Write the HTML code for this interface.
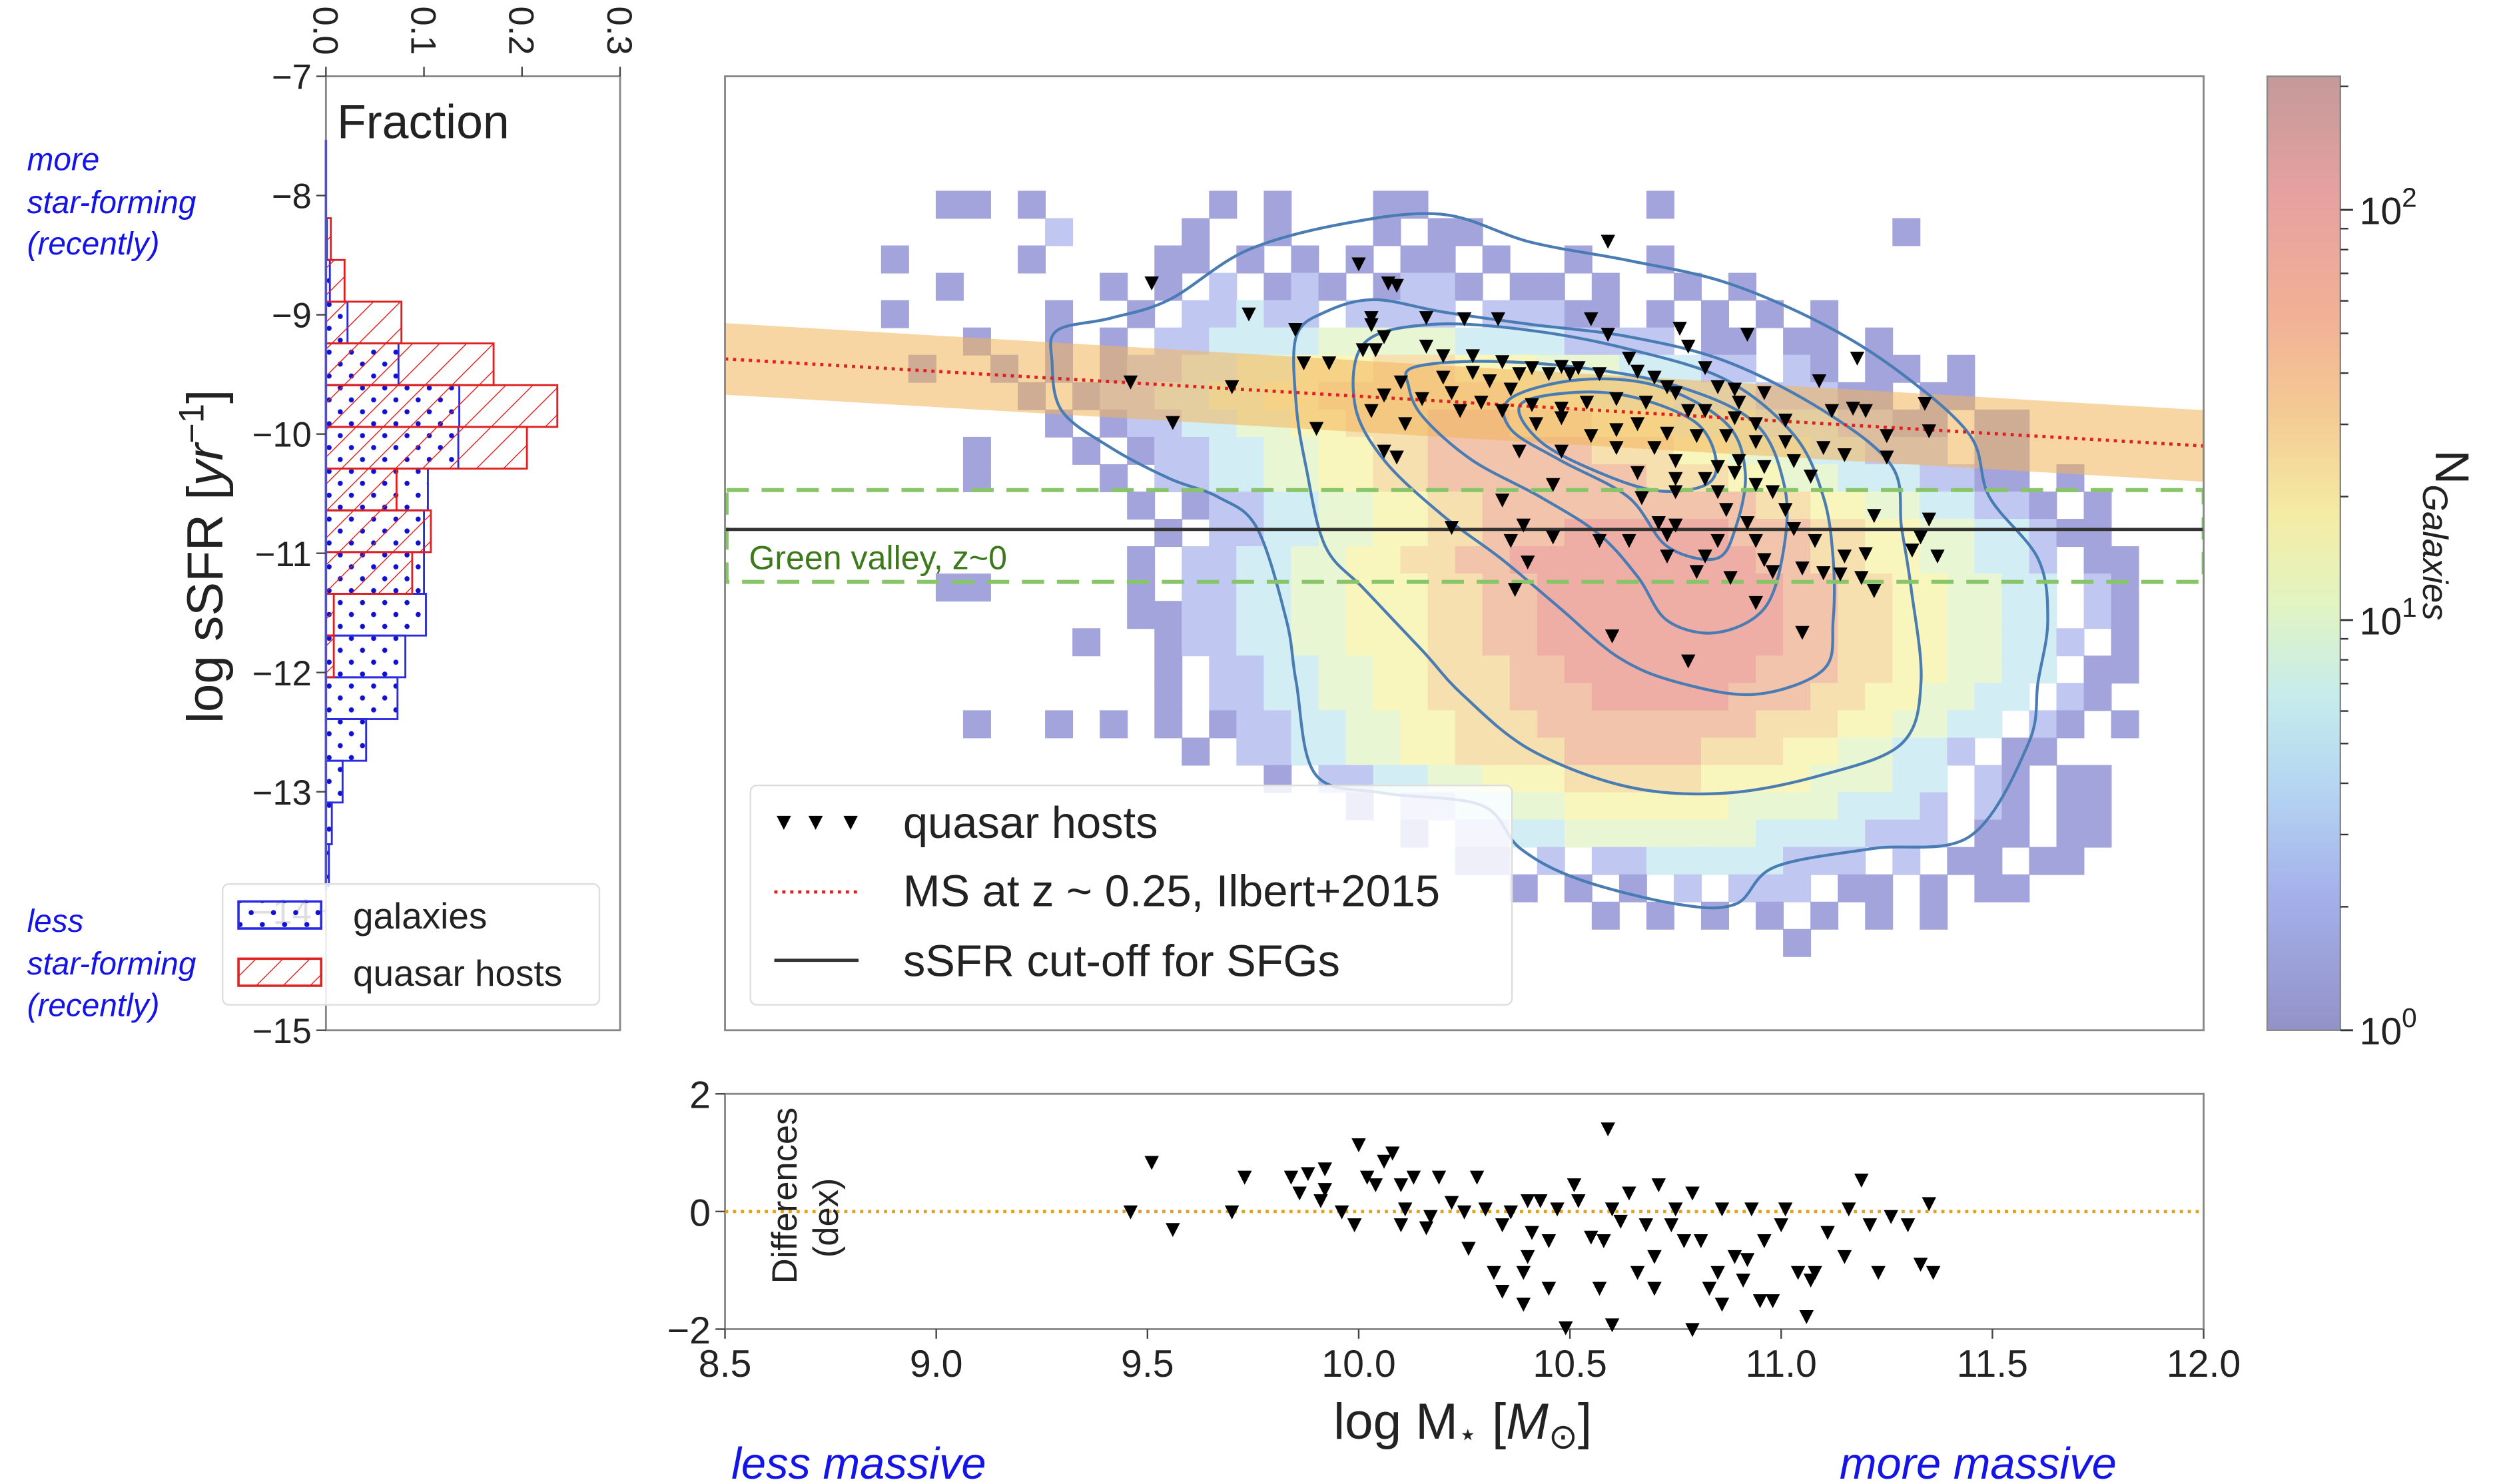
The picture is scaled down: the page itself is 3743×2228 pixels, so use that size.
<!DOCTYPE html>
<html><head><meta charset="utf-8"><style>
html,body{margin:0;padding:0;background:#fff;}
svg{display:block;font-family:"Liberation Sans",sans-serif;}
</style></head><body>
<svg id="fig" width="3743" height="2228" viewBox="0 0 1568 933.4" preserveAspectRatio="none" xmlns="http://www.w3.org/2000/svg">
<defs>
<pattern id="hatchRed" patternUnits="userSpaceOnUse" width="12" height="12" patternTransform="rotate(45)">
<line x1="0" y1="0" x2="0" y2="12" stroke="#e02020" stroke-width="1.2"/>
</pattern>
<pattern id="dotBlue" patternUnits="userSpaceOnUse" width="14" height="15">
<circle cx="4" cy="4" r="1.6" fill="#1010d0"/><circle cx="11" cy="11.5" r="1.6" fill="#1010d0"/>
</pattern>
<linearGradient id="cbar" x1="0" y1="0" x2="0" y2="1">
<stop offset="0" stop-color="#c49a9a"/><stop offset="0.12" stop-color="#e6a0a0"/><stop offset="0.25" stop-color="#f2b096"/>
<stop offset="0.36" stop-color="#f4cc94"/><stop offset="0.46" stop-color="#f4eca4"/><stop offset="0.55" stop-color="#e2f4c0"/>
<stop offset="0.65" stop-color="#c6ecec"/><stop offset="0.75" stop-color="#b4d4f2"/><stop offset="0.86" stop-color="#a4b0ea"/>
<stop offset="1" stop-color="#9292c8"/>
</linearGradient>
<clipPath id="mainClip"><rect x="456" y="48" width="930" height="600"/></clipPath>
</defs>
<g id="hist"></g>
<g id="main"></g>
<g id="cb"></g>
<g id="resid"></g>
<g id="annot">
<text x="17" y="107" font-size="20" font-style="italic" fill="#1414e6">more</text>
<text x="17" y="134" font-size="20" font-style="italic" fill="#1414e6">star-forming</text>
<text x="17" y="160" font-size="20" font-style="italic" fill="#1414e6">(recently)</text>
<text x="17" y="586" font-size="20" font-style="italic" fill="#1414e6">less</text>
<text x="17" y="613" font-size="20" font-style="italic" fill="#1414e6">star-forming</text>
<text x="17" y="639" font-size="20" font-style="italic" fill="#1414e6">(recently)</text>
<text x="460" y="930" font-size="28" font-style="italic" fill="#1414e6">less massive</text>
<text x="1157" y="930" font-size="28" font-style="italic" fill="#1414e6">more massive</text>
</g>
</svg>
<script>
const NS="http://www.w3.org/2000/svg";
function mk(parent,tag,attrs,txt){const e=document.createElementNS(NS,tag);for(const k in attrs)e.setAttribute(k,attrs[k]);if(txt!==undefined)e.textContent=txt;parent.appendChild(e);return e;}

// ---------- DATA ----------
const histEdgesTop=[-8.19,-8.54,-8.89,-9.24,-9.59,-9.94,-10.29,-10.64,-10.99,-11.34,-11.69,-12.04,-12.39,-12.74,-13.09,-13.44];
const quasarFrac=[0.005,0.019,0.077,0.171,0.236,0.205,0.072,0.107,0.088,0.008,0.008,0,0,0,0];
const galaxyFrac=[0.001,0.004,0.022,0.074,0.136,0.135,0.104,0.100,0.100,0.102,0.081,0.073,0.041,0.017,0.006,0.003];
const fracTicks=[0.0,0.1,0.2,0.3];
const ssfrTicks=[-7,-8,-9,-10,-11,-12,-13,-14,-15];
const massTicks=[8.5,9.0,9.5,10.0,10.5,11.0,11.5,12.0];
const diffTicks=[2,0,-2];
const heatRows=[
"....11.1......1.1...11........1.................",
"........2....1..1...1.11...............1........",
"..1....1....11.1.1.1.11.1..1..1.................",
"....1.....1.1.2.121.1221.11.1..1.1..............",
"..1.....1..1.22322.2222.22211.1.1.1.1...........",
".....1..1.1.2233334444433332222.11.11.1.........",
"...1..1.1.122334455566655544433322.21.11.1......",
".......1.122334455666666655544433322211.11......",
"........1.1223344556667776665554443332211.11....",
".....1...1.122334455667777776665544433222.11....",
".....1....1.22334455667777777766655443332211.1..",
"...........1.12233445566777777777766554433221.1.",
"............1.223344556677788888877766554433211.",
"...........1.22334455667788888888877665544332.11",
"....11.....1.22334455566778888888887766554433.21",
"...........1122334455566778888888887766554433.21",
".........1..1223344555667788888888877665544332.1",
"............1.2233445566677888888877766554433.11",
"............1.223344556667778888877766554433.21.",
".....1..1.1.1.12233445566677777777666554433.21.1",
".............1.223344556666777776665544332.11...",
"................1.22334455566666555544433.21.11.",
"...................1.22334455555544443332.21.11.",
".....................1.223344444443333222.11.11.",
".......................11.2.2233333222.2.11.11..",
".........................1.1.1.2.222.11.1.11....",
"............................1.1.1.1.1.1.1.......",
"...................................1............"];
const heatM0=8.74, heatDM=0.0647, heatS0=-7.96, heatDS=-0.2293;
const msLine=[[8.5,-9.37],[12.0,-10.1]];
const msHalfWidth=0.3;
const cutoffSSFR=-10.8;
const gvTop=-10.47, gvBot=-11.24;
const contour1=[[9.286,-9.131],[9.413,-9.028],[9.552,-8.873],[9.736,-8.459],[9.967,-8.234],[10.199,-8.158],[10.407,-8.391],[10.638,-8.544],[10.869,-8.729],[11.100,-9.080],[11.285,-9.493],[11.447,-10.011],[11.493,-10.528],[11.608,-11.045],[11.631,-11.563],[11.608,-12.080],[11.585,-12.597],[11.447,-13.373],[11.215,-13.477],[10.984,-13.632],[10.892,-13.942],[10.753,-13.942],[10.522,-13.735],[10.383,-13.477],[10.291,-13.114],[10.060,-13.011],[9.898,-12.856],[9.852,-12.080],[9.829,-11.563],[9.759,-10.787],[9.667,-10.528],[9.552,-10.373],[9.413,-10.114],[9.297,-9.804],[9.274,-9.390]];
const contour2=[[9.852,-9.183],[9.921,-8.976],[10.037,-8.873],[10.199,-8.976],[10.407,-9.080],[10.638,-9.183],[10.869,-9.390],[11.100,-9.804],[11.262,-10.269],[11.285,-10.787],[11.308,-11.304],[11.331,-12.080],[11.285,-12.597],[11.100,-12.856],[10.869,-13.011],[10.638,-12.959],[10.407,-12.649],[10.245,-12.183],[10.152,-11.821],[10.014,-11.304],[9.921,-10.942],[9.875,-10.269],[9.852,-9.752]];
const contour3=[[10.014,-9.235],[10.175,-9.080],[10.407,-9.131],[10.638,-9.287],[10.869,-9.545],[11.031,-10.011],[11.100,-10.528],[11.123,-11.045],[11.123,-11.563],[11.100,-11.976],[10.938,-12.183],[10.753,-12.080],[10.615,-11.873],[10.476,-11.459],[10.337,-11.045],[10.199,-10.683],[10.060,-10.218],[9.991,-9.752]];
const contour4=[[10.129,-9.442],[10.291,-9.390],[10.522,-9.442],[10.753,-9.597],[10.938,-9.907],[11.007,-10.425],[11.007,-10.942],[10.961,-11.459],[10.846,-11.666],[10.730,-11.563],[10.661,-11.200],[10.568,-10.838],[10.430,-10.528],[10.268,-10.218],[10.152,-9.856],[10.118,-9.597]];
const contour5=[[10.360,-9.700],[10.522,-9.545],[10.707,-9.597],[10.869,-9.907],[10.915,-10.321],[10.892,-10.787],[10.846,-11.045],[10.730,-10.942],[10.638,-10.528],[10.476,-10.218],[10.360,-9.959]];
const contour6=[[10.383,-9.752],[10.522,-9.649],[10.661,-9.700],[10.799,-9.907],[10.846,-10.218],[10.822,-10.425],[10.707,-10.476],[10.568,-10.321],[10.430,-10.062]];
const qsoMass=[10.59,9.51,10.00,10.07,10.09,9.74,10.03,10.03,10.16,10.25,10.33,10.55,10.76,10.92,9.85,10.06,10.04,9.87,9.93,10.01,10.16,10.20,10.27,10.34,10.41,10.48,10.52,10.59,10.64,10.78,10.82,10.89,10.96,11.09,11.18,9.46,9.70,10.10,10.20,10.27,10.31,10.38,10.45,10.50,10.57,10.66,10.70,10.73,10.75,10.85,10.90,10.03,10.06,10.15,10.22,10.29,10.36,10.41,10.48,10.54,10.61,10.68,10.78,10.82,10.89,10.94,11.01,11.12,11.17,11.20,11.25,11.34,11.35,9.56,9.90,10.11,10.24,10.34,10.42,10.48,10.55,10.61,10.66,10.73,10.80,10.87,10.94,11.01,11.10,11.15,11.25,10.06,10.09,10.38,10.48,10.61,10.70,10.75,10.85,10.90,10.96,11.03,10.66,10.75,10.82,10.89,10.94,11.07,10.46,10.34,10.67,10.75,10.85,10.98,10.87,11.01,11.22,11.35,10.22,10.39,10.71,10.75,10.92,11.03,10.36,10.46,10.57,10.64,10.73,10.85,10.94,11.08,11.33,10.40,10.73,10.82,10.96,11.15,11.20,11.31,11.37,11.05,11.10,11.14,11.19,10.88,10.80,10.98,10.37,11.22,10.94,10.60,11.05,10.78];
const qsoSSFR=[-8.38,-8.73,-8.57,-8.73,-8.75,-8.99,-9.02,-9.08,-9.02,-9.03,-9.03,-9.03,-9.11,-9.16,-9.12,-9.18,-9.29,-9.40,-9.40,-9.29,-9.26,-9.34,-9.34,-9.39,-9.44,-9.43,-9.44,-9.16,-9.36,-9.26,-9.44,-9.62,-9.65,-9.55,-9.36,-9.56,-9.60,-9.56,-9.52,-9.48,-9.55,-9.49,-9.49,-9.49,-9.49,-9.47,-9.52,-9.60,-9.65,-9.60,-9.73,-9.80,-9.67,-9.70,-9.65,-9.73,-9.62,-9.75,-9.78,-9.73,-9.70,-9.73,-9.80,-9.80,-9.86,-9.91,-9.88,-9.80,-9.78,-9.80,-10.01,-9.74,-9.97,-9.90,-9.95,-9.91,-9.80,-9.80,-9.91,-9.86,-10.01,-9.96,-9.91,-9.99,-10.01,-10.01,-10.06,-10.06,-10.11,-10.17,-10.19,-10.14,-10.19,-10.14,-10.14,-10.11,-10.11,-10.22,-10.27,-10.22,-10.27,-10.22,-10.32,-10.37,-10.37,-10.32,-10.42,-10.35,-10.42,-10.55,-10.53,-10.48,-10.48,-10.48,-10.63,-10.63,-10.68,-10.71,-10.78,-10.76,-10.74,-10.76,-10.74,-10.79,-10.89,-10.86,-10.89,-10.89,-10.84,-10.89,-10.89,-10.89,-10.86,-11.07,-11.02,-11.02,-11.05,-11.02,-11.00,-10.97,-11.02,-11.12,-11.16,-11.17,-11.20,-11.20,-11.15,-11.15,-11.30,-11.31,-11.41,-11.69,-11.66,-11.90];
const diffMass=[9.46,9.51,9.56,9.70,9.73,9.84,9.86,9.88,9.91,9.92,10.00,10.02,10.04,10.06,10.08,10.10,10.11,10.13,10.16,10.17,10.19,10.22,10.25,10.30,10.34,10.39,10.40,10.41,10.45,10.47,10.51,10.55,10.57,10.59,10.60,10.62,10.66,10.70,10.74,10.77,10.79,10.81,10.85,10.89,10.92,10.96,11.00,11.04,11.06,11.07,11.11,11.15,11.19,11.21,11.23,11.26,11.30,11.33,11.35,11.36,10.39,10.34,10.45,10.49,10.60,10.70,10.83,10.91,10.95,9.92,9.96,9.99,10.10,10.28,10.26,10.32,10.43,10.64,10.75,10.79,10.86,10.93,11.01,11.16,11.08,10.68,10.52,10.71,10.98,10.86,10.40,10.36,10.58];
const diffVal=[0,0.84,-0.3,0,0.59,0.59,0.32,0.65,0.19,0.38,1.14,0.59,0.46,0.86,1.0,0.46,0.05,0.59,-0.27,-0.08,0.59,0.16,0,0.05,-0.22,-1.03,-0.76,-0.35,-0.49,0.05,0.46,-0.43,-1.30,1.41,0.05,-0.16,-1.03,-0.76,-0.22,-0.49,-2.0,-0.49,-1.03,-0.76,-0.81,-0.49,-0.22,-1.03,-1.78,-1.16,-0.35,-0.76,0.54,-0.22,-1.03,-0.08,-0.22,-0.89,0.14,-1.03,-1.57,-1.35,-1.30,-1.97,-1.92,-1.30,-1.30,-1.16,-1.51,0.73,0,-0.22,-0.22,0.59,-0.62,-1.03,0.19,0.32,0.05,0.32,0.05,0.05,0.05,0.05,-1.03,-0.22,0.19,0.46,-1.51,-1.57,0.19,0,-0.49];
const cbarTicks=[0,1,2];
const heatColors=["","#a4a4dc","#c0c8f2","#d2eef4","#e8f6d4","#f8f6bc","#f6e0b0","#f2c4ac","#eeaea6"];

// ---------- SCALES ----------
const yS=v=>48+(-7-v)*75;
const xF=f=>205+f*(185/0.3);
const xM=m=>456+(m-8.5)*(930/3.5);
const yD=d=>762-d*37;
const yC=l=>648-l*258;

// ---------- HISTOGRAM PANEL ----------
const H=document.getElementById('hist');
mk(H,'rect',{x:205,y:48,width:185,height:600,fill:'#fff',stroke:'#888','stroke-width':1.2});
galaxyFrac.forEach((f,i)=>{ if(f<=0)return;
  const y0=yS(histEdgesTop[i]), h=yS(histEdgesTop[i]-0.35)-y0;
  const r=mk(H,'rect',{x:205,y:y0,width:xF(f)-205,height:h,fill:'url(#dotBlue)',stroke:'#2a2ae0','stroke-width':1.2});
  
  
});
quasarFrac.forEach((f,i)=>{ if(f<=0)return;
  const y0=yS(histEdgesTop[i]), h=yS(histEdgesTop[i]-0.35)-y0;
  const r=mk(H,'rect',{x:205,y:y0,width:xF(f)-205,height:h,fill:'url(#hatchRed)',stroke:'#e02020','stroke-width':1.2});
  
  
});
mk(H,'line',{x1:205,y1:88,x2:205,y2:560,stroke:'#5050c0','stroke-width':1.5});
fracTicks.forEach(t=>{
  const x=xF(t);
  mk(H,'line',{x1:x,y1:42,x2:x,y2:48,stroke:'#444'});
  const tx=mk(H,'text',{x:0,y:0,'font-size':22,fill:'#222',transform:`translate(${x-8},4) rotate(90)`},t.toFixed(1));
  
  
});
ssfrTicks.forEach(t=>{
  const y=yS(t);
  mk(H,'line',{x1:199,y1:y,x2:205,y2:y,stroke:'#444'});
  const tx=mk(H,'text',{x:196,y:y+8,'font-size':22,fill:'#222','text-anchor':'end'},'\u2212'+Math.abs(t));
  
  
});
let t1=mk(H,'text',{x:212,y:87,'font-size':30,fill:'#222'},'Fraction');


let yl=mk(H,'text',{x:0,y:0,'font-size':32,fill:'#222','text-anchor':'middle',transform:'translate(140,350) rotate(-90)'});


yl.innerHTML='log sSFR [<tspan font-style="italic">yr</tspan><tspan dy="-12" font-size="22">\u22121</tspan><tspan dy="12">]</tspan>';
const HL=mk(H,'g',{});


mk(HL,'rect',{x:140,y:556,width:237,height:76,rx:4,fill:'#fff','fill-opacity':0.85,stroke:'#ddd'});
mk(HL,'rect',{x:150,y:567,width:52,height:17,fill:'url(#dotBlue)',stroke:'#2a2ae0','stroke-width':1.5});
mk(HL,'rect',{x:150,y:603,width:52,height:17,fill:'url(#hatchRed)',stroke:'#e02020','stroke-width':1.5});
mk(HL,'text',{x:222,y:584,'font-size':23,fill:'#222'},'galaxies');
mk(HL,'text',{x:222,y:620,'font-size':23,fill:'#222'},'quasar hosts');

// ---------- MAIN PANEL ----------
const M=document.getElementById('main');
mk(M,'rect',{x:456,y:48,width:930,height:600,fill:'#fff'});
const G=mk(M,'g',{'clip-path':'url(#mainClip)'});
const cw=xM(heatM0+heatDM)-xM(heatM0), ch=yS(heatS0+heatDS)-yS(heatS0);
heatRows.forEach((row,r)=>{
  for(let c=0;c<row.length;c++){const ch_=row[c]; if(ch_==='.')continue;
    const lv=+ch_;
    const cell=mk(G,'rect',{x:xM(heatM0+c*heatDM),y:yS(heatS0+r*heatDS),width:cw+0.4,height:ch+0.4,fill:heatColors[lv]});
    
    
  }
});
const bx0=xM(msLine[0][0]),bx1=xM(msLine[1][0]);
const band=mk(G,'polygon',{points:`${bx0},${yS(msLine[0][1]+msHalfWidth)} ${bx1},${yS(msLine[1][1]+msHalfWidth)} ${bx1},${yS(msLine[1][1]-msHalfWidth)} ${bx0},${yS(msLine[0][1]-msHalfWidth)}`,fill:'#f2b45a','fill-opacity':0.55});


function smooth(pts){let d='';const n=pts.length;
  for(let i=0;i<n;i++){const p0=pts[(i-1+n)%n],p1=pts[i],p2=pts[(i+1)%n],p3=pts[(i+2)%n];
    if(i===0)d+=`M${p1[0]},${p1[1]}`;
    d+=`C${p1[0]+(p2[0]-p0[0])/6},${p1[1]+(p2[1]-p0[1])/6} ${p2[0]-(p3[0]-p1[0])/6},${p2[1]-(p3[1]-p1[1])/6} ${p2[0]},${p2[1]}`;}
  return d+'Z';}
[contour1,contour2,contour3,contour4,contour5,contour6].forEach(cn=>{
  const p=mk(G,'path',{d:smooth(cn.map(q=>[xM(q[0]),yS(q[1])])),fill:'none',stroke:'#4a7cb4','stroke-width':1.8});
  
  
});
let ms=mk(G,'line',{x1:bx0,y1:yS(msLine[0][1]),x2:bx1,y2:yS(msLine[1][1]),stroke:'#e02020','stroke-width':2,'stroke-dasharray':'2 3'});


let gv=mk(G,'rect',{x:457,y:yS(gvTop),width:929,height:yS(gvBot)-yS(gvTop),fill:'none',stroke:'#88c468','stroke-width':2.5,'stroke-dasharray':'14 8'});


let co=mk(G,'line',{x1:456,y1:yS(cutoffSSFR),x2:1386,y2:yS(cutoffSSFR),stroke:'#333','stroke-width':2});


let gvt=mk(G,'text',{x:471,y:358,'font-size':21,fill:'#3c7a1c'},'Green valley, z~0');


function tri(parent,x,y,s){return mk(parent,'path',{d:`M${x-s},${y-s*0.85} L${x+s},${y-s*0.85} L${x},${y+s*1.1} Z`,fill:'#000'});}
qsoMass.forEach((m,i)=>{
  const t=tri(G,xM(m),yS(qsoSSFR[i]),4.5);
  
  
});
const L=mk(M,'g',{});


mk(L,'rect',{x:472,y:494,width:479,height:138,rx:4,fill:'#fff','fill-opacity':0.82,stroke:'#ddd'});
[493,513,535].forEach(x=>tri(L,x,517,4.5));
mk(L,'text',{x:568,y:527,'font-size':28,fill:'#222'},'quasar hosts');
mk(L,'line',{x1:487,y1:561,x2:540,y2:561,stroke:'#e02020','stroke-width':2,'stroke-dasharray':'2 3'});
mk(L,'text',{x:568,y:570,'font-size':28,fill:'#222'},'MS at z ~ 0.25, Ilbert+2015');
mk(L,'line',{x1:487,y1:604,x2:540,y2:604,stroke:'#333','stroke-width':2});
mk(L,'text',{x:568,y:614,'font-size':28,fill:'#222'},'sSFR cut-off for SFGs');
mk(M,'rect',{x:456,y:48,width:930,height:600,fill:'none',stroke:'#888','stroke-width':1.2});

// ---------- COLORBAR ----------
const C=document.getElementById('cb');
mk(C,'rect',{x:1426,y:48,width:46,height:600,fill:'url(#cbar)',stroke:'#888','stroke-width':1});
cbarTicks.forEach(l=>{
  const y=yC(l);
  mk(C,'line',{x1:1472,y1:y,x2:1480,y2:y,stroke:'#333','stroke-width':1.2});
  const tx=mk(C,'text',{x:1484,y:y+9,'font-size':24,fill:'#222'});
  
  
  tx.innerHTML=`10<tspan dy="-11" font-size="17">${l}</tspan>`;
  for(let k=2;k<=9;k++){const yy=yC(l+Math.log10(k)); if(yy<48)break;
    mk(C,'line',{x1:1472,y1:yy,x2:1477,y2:yy,stroke:'#333','stroke-width':1});}
});
let cl=mk(C,'text',{x:0,y:0,'font-size':30,fill:'#222',transform:'translate(1532,283) rotate(90)'});


cl.innerHTML='N<tspan dy="8" font-size="22" font-style="italic">Galaxies</tspan>';

// ---------- RESIDUAL PANEL ----------
const R=document.getElementById('resid');
mk(R,'rect',{x:456,y:688,width:930,height:148,fill:'#fff',stroke:'#888','stroke-width':1.2});
let zl=mk(R,'line',{x1:456,y1:yD(0),x2:1386,y2:yD(0),stroke:'#e0a020','stroke-width':2,'stroke-dasharray':'2 3'});


diffMass.forEach((m,i)=>{
  const t=tri(R,xM(m),yD(diffVal[i]),4.5);
  
  
});
diffTicks.forEach(d=>{
  const y=yD(d);
  mk(R,'line',{x1:450,y1:y,x2:456,y2:y,stroke:'#444'});
  const tx=mk(R,'text',{x:447,y:y+9,'font-size':24,fill:'#222','text-anchor':'end'},d<0?'\u2212'+Math.abs(d):''+d);
  
  
});
massTicks.forEach(m=>{
  const x=xM(m);
  mk(R,'line',{x1:x,y1:836,x2:x,y2:842,stroke:'#444'});
  const tx=mk(R,'text',{x:x,y:866,'font-size':24,fill:'#222','text-anchor':'middle'},m.toFixed(1));
  
  
});
let dl=mk(R,'text',{x:0,y:0,'font-size':22,fill:'#222','text-anchor':'middle',transform:'translate(501,752) rotate(-90)'},'Differences');


let dl2=mk(R,'text',{x:0,y:0,'font-size':22,fill:'#222','text-anchor':'middle',transform:'translate(527,766) rotate(-90)'},'(dex)');


let xl=mk(R,'text',{x:920,y:905,'font-size':32,fill:'#222','text-anchor':'middle'});


xl.innerHTML='log M<tspan font-size="20" dy="4">\u22c6</tspan><tspan dy="-4"> [</tspan><tspan font-style="italic">M</tspan><tspan font-size="22" dy="6">\u2299</tspan><tspan dy="-6">]</tspan>';
</script>
</body></html>
